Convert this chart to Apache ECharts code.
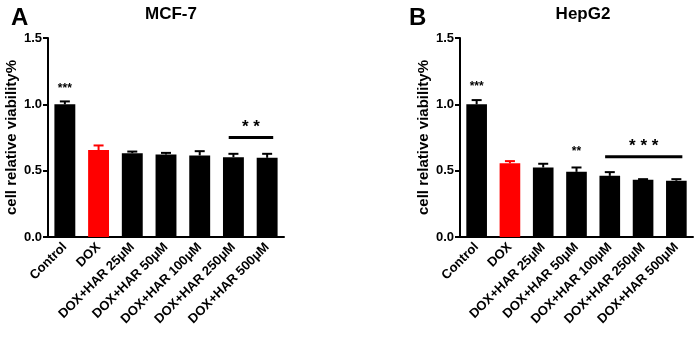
<!DOCTYPE html>
<html>
<head>
<meta charset="utf-8">
<script src="https://cdn.jsdelivr.net/npm/echarts@6/dist/echarts.min.js"></script>
<style>
html, body { margin: 0; padding: 0; background: #fff; }
#main { width: 699px; height: 337px; }
</style>
</head>
<body>
<div id="main"></div>
<script>
var categories = ['Control', 'DOX', 'DOX+HAR 25μM', 'DOX+HAR 50μM', 'DOX+HAR 100μM', 'DOX+HAR 250μM', 'DOX+HAR 500μM'];
var barColors = ['#000', '#ff0000', '#000', '#000', '#000', '#000', '#000'];
var yTicks = [0, 0.5, 1.0, 1.5];

// MCF-7
var mcfMean = [1.0, 0.655, 0.632, 0.622, 0.615, 0.602, 0.597];
var mcfErr = [0.022, 0.035, 0.012, 0.012, 0.032, 0.025, 0.03];
// HepG2
var hepMean = [1.0, 0.555, 0.524, 0.491, 0.461, 0.431, 0.424];
var hepErr = [0.032, 0.017, 0.028, 0.033, 0.028, 0.005, 0.012];

// significance marks: [categoryIndex, yValue, text]
var mcfStars = [[0, 1.12, '***']];
var hepStars = [[0, 1.13, '***'], [3, 0.64, '**']];
// bracket lines: [fromIndex, toIndex, yValue, text]
var mcfLines = [[5, 6, 0.75, '**']];
var hepLines = [[4, 6, 0.605, '***']];

var FONT = 'Liberation Sans, Arial, sans-serif';

function barSeries(idx, means) {
    return {
        type: 'bar',
        xAxisIndex: idx,
        yAxisIndex: idx,
        barWidth: '62%',
        data: means.map(function (v, i) {
            return {value: v, itemStyle: {color: barColors[i]}};
        }),
        z: 2
    };
}

function errSeries(idx, means, errs) {
    return {
        type: 'custom',
        xAxisIndex: idx,
        yAxisIndex: idx,
        data: means.map(function (v, i) { return [i, v, v + errs[i]]; }),
        renderItem: function (params, api) {
            var i = api.value(0);
            var lo = api.coord([i, api.value(1)]);
            var hi = api.coord([i, api.value(2)]);
            var color = barColors[i];
            var style = {stroke: color, lineWidth: 2};
            return {
                type: 'group',
                children: [
                    {type: 'line', shape: {x1: lo[0], y1: lo[1], x2: hi[0], y2: hi[1]}, style: style},
                    {type: 'line', shape: {x1: hi[0] - 5, y1: hi[1], x2: hi[0] + 5, y2: hi[1]}, style: style}
                ]
            };
        },
        z: 3
    };
}

function starSeries(idx, stars) {
    return {
        type: 'custom',
        xAxisIndex: idx,
        yAxisIndex: idx,
        data: stars,
        renderItem: function (params, api) {
            var p = api.coord([api.value(0), api.value(1)]);
            return {
                type: 'text',
                style: {
                    text: stars[params.dataIndex][2], x: p[0], y: p[1],
                    align: 'center', verticalAlign: 'middle',
                    font: 'bold 12px ' + FONT, fill: '#000'
                }
            };
        },
        z: 4
    };
}

function lineSeries(idx, lines) {
    return {
        type: 'custom',
        xAxisIndex: idx,
        yAxisIndex: idx,
        data: lines.map(function (l) { return [l[0], l[1], l[2]]; }),
        renderItem: function (params, api) {
            var a = api.coord([api.value(0), api.value(2)]);
            var b = api.coord([api.value(1), api.value(2)]);
            var w = api.size([1, 0])[0];
            var x1 = a[0] - w * 0.14, x2 = b[0] + w * 0.18;
            return {
                type: 'group',
                children: [
                    {type: 'line', shape: {x1: x1, y1: a[1], x2: x2, y2: a[1]}, style: {stroke: '#000', lineWidth: 3}},
                    {type: 'text', style: {
                        text: lines[params.dataIndex][3].split('').join(' '),
                        x: (x1 + x2) / 2, y: a[1] - 10,
                        align: 'center', verticalAlign: 'middle',
                        font: 'bold 17px ' + FONT, fill: '#000'
                    }}
                ]
            };
        },
        z: 4
    };
}

function xAxisOpt(idx) {
    return {
        type: 'category',
        gridIndex: idx,
        data: categories,
        axisLine: {lineStyle: {color: '#000', width: 2}},
        axisTick: {alignWithLabel: true, length: 5, lineStyle: {color: '#000', width: 2}},
        axisLabel: {rotate: 45, interval: 0, color: '#000', fontWeight: 'bold', fontSize: 13, fontFamily: FONT, margin: 8}
    };
}

function yAxisOpt(idx) {
    return {
        type: 'value',
        gridIndex: idx,
        min: 0,
        max: 1.5,
        interval: 0.5,
        name: 'cell relative viability%',
        nameLocation: 'middle',
        nameGap: 29,
        nameTextStyle: {color: '#000', fontWeight: 'bold', fontSize: 15, fontFamily: FONT},
        axisLine: {show: true, lineStyle: {color: '#000', width: 2}},
        axisTick: {show: true, length: 5, lineStyle: {color: '#000', width: 2}},
        splitLine: {show: false},
        axisLabel: {
            color: '#000', fontWeight: 'bold', fontSize: 13, fontFamily: FONT, margin: 6,
            formatter: function (v) { return yTicks.indexOf(v) >= 0 ? v.toFixed(1) : ''; }
        }
    };
}

var myChart = echarts.init(document.getElementById('main'), null, {renderer: 'canvas'});
var option = {
    backgroundColor: '#fff',
    animation: false,
    title: [
        {text: 'MCF-7', left: 166, top: 1, textAlign: 'center', textStyle: {fontSize: 17, fontWeight: 'bold', color: '#000', fontFamily: FONT}},
        {text: 'HepG2', left: 578, top: 1, textAlign: 'center', textStyle: {fontSize: 17, fontWeight: 'bold', color: '#000', fontFamily: FONT}},
        {text: 'A', left: 6, top: 1, textStyle: {fontSize: 24, fontWeight: 'bold', color: '#000', fontFamily: FONT}},
        {text: 'B', left: 404, top: 1, textStyle: {fontSize: 24, fontWeight: 'bold', color: '#000', fontFamily: FONT}}
    ],
    grid: [
        {left: 48, top: 38, width: 236, height: 199},
        {left: 460, top: 38, width: 233, height: 199}
    ],
    xAxis: [xAxisOpt(0), xAxisOpt(1)],
    yAxis: [yAxisOpt(0), yAxisOpt(1)],
    series: [
        barSeries(0, mcfMean), errSeries(0, mcfMean, mcfErr), starSeries(0, mcfStars), lineSeries(0, mcfLines),
        barSeries(1, hepMean), errSeries(1, hepMean, hepErr), starSeries(1, hepStars), lineSeries(1, hepLines)
    ]
};
myChart.setOption(option);
</script>
</body>
</html>
